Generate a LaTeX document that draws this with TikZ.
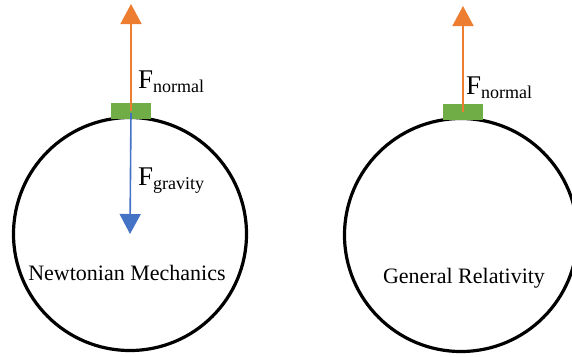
\documentclass[tikz,border=0pt]{standalone}
\usepackage{fontspec}
\setmainfont{Liberation Serif}
\usetikzlibrary{arrows.meta,positioning}
\definecolor{fnorange}{HTML}{ED7D31}
\definecolor{fgblue}{HTML}{4472C4}
\definecolor{blockgreen}{HTML}{70AD47}
\newcommand{\forcelabel}[1]{{\fontsize{27}{27}\selectfont F}\raisebox{-4pt}{\fontsize{18}{18}\selectfont #1}}

\begin{document}
\begin{tikzpicture}[x=1pt,y=-1pt,>={Triangle[width=21pt,length=20pt]}]
    \tikzset{planet/.style={draw=black,line width=3.2pt,circle,minimum size=233pt,inner sep=0pt},
      block/.style={fill=blockgreen,minimum width=40pt,minimum height=16pt,inner sep=0pt},
      force/.style={->,line width=1.6pt},
      flabel/.style={anchor=base west,inner sep=0pt},
      caption/.style={anchor=base,inner sep=0pt,font=\fontsize{22}{26}\selectfont}}
    \useasboundingbox (0,0) rectangle (572,356);
    % Newtonian picture
    \node[planet] (newton) at (130,234) {};
    \node[block] (blockL) at (131,111) {};
    \coordinate (normtipL) at (131,4);
    \coordinate (gravstart) at (131,113);
    \draw[force,fnorange] (blockL.center) -- (normtipL);
    \draw[force,fgblue] (gravstart) -- (newton.center);
    \node[flabel] (normL) at (138,88) {\forcelabel{normal}};
    \node[flabel] (grav) at (138,185) {\forcelabel{gravity}};
    \node[caption] (newtxt) at (127,280) {Newtonian Mechanics};
    % relativity picture
    \node[planet] (einstein) at (461,235) {};
    \node[block] (blockR) at (463,111.5) {};
    \coordinate (normtipR) at (463,6);
    \draw[force,fnorange] (blockR.center) -- (normtipR);
    \node[flabel] (normR) at (466,94) {\forcelabel{normal}};
    \node[caption] (reltxt) at (464,283) {General Relativity};
  \end{tikzpicture}
\end{document}
